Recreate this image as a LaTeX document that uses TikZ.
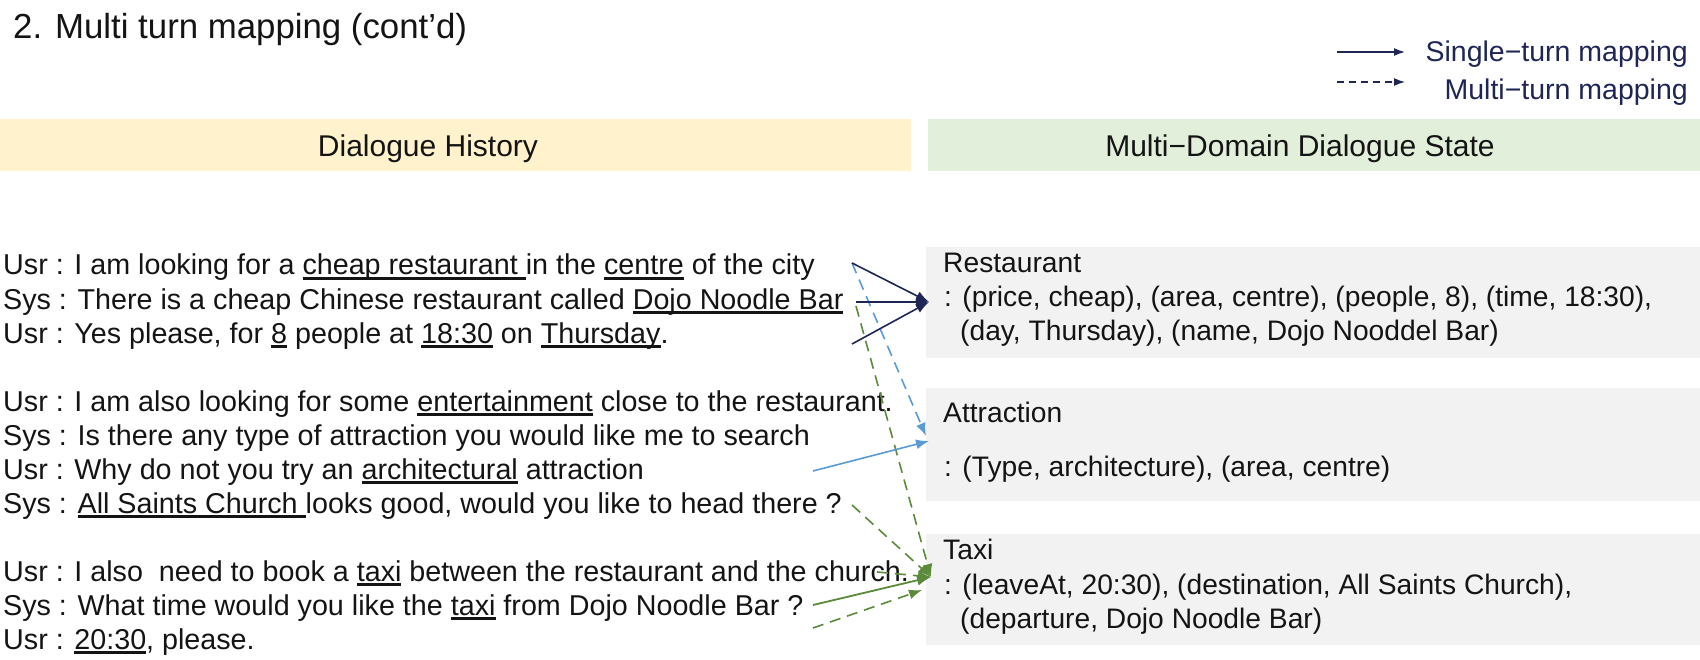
\documentclass[tikz,border=0pt]{standalone}
\usepackage{fontspec}
\setmainfont{Liberation Sans}
\usetikzlibrary{arrows.meta}
\definecolor{navy}{HTML}{1F2656}
\definecolor{bluel}{HTML}{5B9BD5}
\definecolor{greenl}{HTML}{5C8A3C}
\definecolor{bandY}{HTML}{FFF2CC}
\definecolor{bandG}{HTML}{E2EFDA}
\definecolor{boxG}{HTML}{F2F2F2}
\definecolor{txt}{HTML}{141414}
\newcommand\ulx[1]{\setbox0=\hbox{#1}\rlap{\rule[-5pt]{\wd0}{2.6pt}}\box0\relax}
\begin{document}
\begin{tikzpicture}[x=1pt,y=-1pt,
  dlg/.style={anchor=base west, inner sep=0pt, text=txt, font=\fontsize{28.7}{34}\selectfont},
  st/.style={anchor=base west, inner sep=0pt, text=txt, font=\fontsize{28.2}{34}\selectfont},
  hdr/.style={anchor=base, inner sep=0pt, text=txt, font=\fontsize{30}{36}\selectfont},
  leg/.style={anchor=base east, inner sep=0pt, text=navy, font=\fontsize{28.5}{34}\selectfont},
  sbox/.style={fill=boxG, draw=none},
  solidnavy/.style={navy, line width=1.6pt, -{Latex[length=13pt,width=10pt]}},
  legsolid/.style={navy, line width=1.6pt, -{Latex[length=11pt,width=8pt]}},
  legdash/.style={navy, line width=1.3pt, dash pattern=on 7pt off 5pt, -{Latex[length=11pt,width=8pt]}},
  bluesolid/.style={bluel, line width=1.6pt, -{Latex[length=13pt,width=10pt]}},
  bluedash/.style={bluel, line width=1.6pt, dash pattern=on 11pt off 7pt, -{Latex[length=13pt,width=10pt]}},
  greensolid/.style={greenl, line width=1.8pt, -{Latex[length=14pt,width=11pt]}},
  greendash/.style={greenl, line width=1.6pt, dash pattern=on 11pt off 7pt, -{Latex[length=13pt,width=10pt]}},
]
\useasboundingbox (0,0) rectangle (1700,660);
\fill[white] (0,0) rectangle (1700,660);

% title
\node[anchor=base west, inner sep=0pt, text=txt, font=\fontsize{34.8}{40}\selectfont] (title) at (13,39) {2. Multi turn mapping (cont’d)};

% legend
\coordinate (l1a) at (1337,52); \coordinate (l1b) at (1405,52);
\coordinate (l2a) at (1337,82); \coordinate (l2b) at (1405,82);
\draw[legsolid] (l1a) -- (l1b);
\draw[legdash] (l2a) -- (l2b);
\node[leg] (legS) at (1688,62) {Single−turn mapping};
\node[leg] (legM) at (1688,100) {Multi−turn mapping};

% bands
\fill[bandY] (0,119) rectangle (911,171);
\fill[bandG] (928,119) rectangle (1700,171);
\node[hdr] (hDH) at (428,157) {Dialogue History};
\node[hdr] (hDS) at (1300,157) {Multi−Domain Dialogue State};

% state boxes
\fill[sbox] (926,247) rectangle (1700,358);
\fill[sbox] (926,388) rectangle (1700,501);
\fill[sbox] (926,534) rectangle (1700,645);

\node[st] (r1) at (943,273) {Restaurant};
\node[st] (r2) at (944,307) {: (price, cheap), (area, centre), (people, 8), (time, 18:30),};
\node[st] (r3) at (960,341) {(day, Thursday), (name, Dojo Nooddel Bar)};
\node[st] (a1) at (943,422) {Attraction};
\node[st] (a2) at (944,476) {: (Type, architecture), (area, centre)};
\node[st] (t1) at (943,559) {Taxi};
\node[st] (t2) at (944,594) {: (leaveAt, 20:30), (destination, All Saints Church),};
\node[st] (t3) at (960,628) {(departure, Dojo Noodle Bar)};

% dialogue
\node[dlg] (d1) at (3,275) {Usr : I am looking for a \ulx{cheap restaurant\ }in the \ulx{centre} of the city};
\node[dlg] (d2) at (3,309) {Sys : There is a cheap Chinese restaurant called \ulx{Dojo Noodle Bar}};
\node[dlg] (d3) at (3,343) {Usr : Yes please, for \ulx{8} people at \ulx{18:30} on \ulx{Thursday}.};
\node[dlg] (d4) at (3,411) {Usr : I am also looking for some \ulx{entertainment} close to the restaurant.};
\node[dlg] (d5) at (3,445) {Sys : Is there any type of attraction you would like me to search};
\node[dlg] (d6) at (3,479) {Usr : Why do not you try an \ulx{architectural} attraction};
\node[dlg] (d7) at (3,513) {Sys : \ulx{All Saints Church\ }looks good, would you like to head there ?};
\node[dlg] (d8) at (3,581) {Usr : I also\ \ need to book a \ulx{taxi} between the restaurant and the church.};
\node[dlg] (d9) at (3,615) {Sys : What time would you like the \ulx{taxi} from Dojo Noodle Bar ?};
\node[dlg] (d10) at (3,649) {Usr : \ulx{20:30}, please.};

% connector endpoints
\coordinate (tipR) at (929,302);
\coordinate (tipA1) at (926,436);
\coordinate (tipA2) at (929,441);
\coordinate (tipT) at (931,577);
\coordinate (tipT2) at (922,590);
\coordinate (s1) at (852,263);
\coordinate (s2) at (856,302);
\coordinate (s3) at (852,344);
\coordinate (g1) at (856,306);
\coordinate (b2) at (813,471);
\coordinate (g2) at (852,505);
\coordinate (g3) at (877,572);
\coordinate (g4) at (813,605);
\coordinate (g5) at (813,628);

% green
\draw[greendash] (g1) -- (tipT);
\draw[greendash] (g2) -- (tipT);
\draw[greendash] (g3) -- (tipT);
\draw[greendash] (g5) -- (tipT2);
\draw[greensolid] (g4) -- (tipT);
% blue
\draw[bluedash] (s1) -- (tipA1);
\draw[bluesolid] (b2) -- (tipA2);
% navy
\draw[solidnavy] (s1) -- (tipR);
\draw[solidnavy] (s2) -- (tipR);
\draw[solidnavy] (s3) -- (tipR);
\end{tikzpicture}
\end{document}
